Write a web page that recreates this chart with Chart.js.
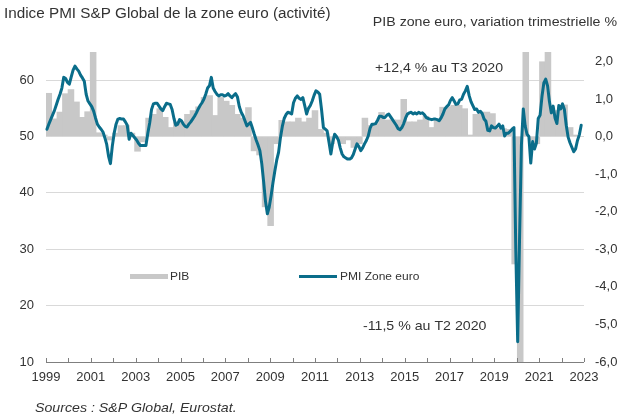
<!DOCTYPE html>
<html><head><meta charset="utf-8">
<script src="https://cdn.jsdelivr.net/npm/chart.js@4.4.1/dist/chart.umd.min.js"></script>
<style>html,body{margin:0;padding:0;background:#fff;}canvas{display:block;}</style>
</head><body>
<canvas id="c" width="622" height="416"></canvas>
<script>
// ---- DATA ----
// PMI composite (monthly), first value = April 1999, last = February 2023
const pmiStartYear = 1999, pmiStartMonth = 4;
const pmi = [
  51.3, 52.2, 53.0, 53.8, 54.6, 55.6, 56.6, 57.5, 58.6,
  60.5, 60.3, 59.6, 59.3, 60.6, 61.8, 62.5, 62.0, 61.6, 60.9, 60.4, 59.8,
  57.5, 56.3, 55.8, 55.3, 54.5, 53.3, 52.2, 51.7, 51.3, 50.8, 49.8, 48.6,
  46.5, 45.2, 48.3, 50.6, 52.2, 53.1, 53.2, 53.1, 53.1, 52.6, 52.0, 49.5,
  50.6, 50.2, 49.8, 49.4, 48.8, 48.4, 48.4, 48.4, 48.4, 50.6, 52.4, 54.8,
  55.8, 55.9, 55.9, 55.4, 54.9, 54.6, 55.3, 55.9, 55.8, 55.7, 54.8, 53.2,
  52.0, 52.2, 53.0, 52.8, 52.2, 51.8, 51.7, 52.2, 52.6, 53.1, 53.6, 54.2,
  54.9, 55.5, 56.0, 56.6, 57.5, 58.6, 59.0, 60.5, 58.6, 58.0, 57.5, 57.2,
  57.4, 57.4, 57.2, 57.3, 57.6, 57.2, 56.9, 57.3, 57.6, 57.0, 55.3, 54.3,
  53.7, 52.8, 51.9, 52.2, 52.5, 51.5, 50.4, 49.4, 48.5, 47.5, 45.2, 42.0,
  38.5, 36.3, 37.5, 39.5, 41.8, 43.9, 45.8, 47.2, 49.8, 51.8, 53.2, 53.9,
  54.3, 54.2, 54.0, 56.0, 56.8, 57.2, 56.8, 56.6, 56.9, 55.5, 54.0, 55.0,
  55.5, 56.3, 57.3, 58.1, 57.9, 57.5, 54.8, 51.6, 51.3, 51.0, 49.0, 46.9,
  49.0, 50.4, 50.0, 49.4, 48.0, 46.9, 46.4, 46.2, 46.0, 46.0, 46.2, 46.8,
  47.8, 48.7, 48.2, 47.5, 48.0, 48.7, 49.3, 50.1, 51.5, 52.2, 52.2, 52.3,
  52.9, 53.6, 53.6, 53.4, 53.4, 53.8, 54.0, 53.5, 53.0, 52.5, 52.0, 51.4,
  51.2, 51.6, 52.3, 53.3, 54.0, 54.2, 54.3, 54.0, 54.2, 54.0, 54.3, 54.1,
  54.2, 53.9, 53.4, 53.2, 53.1, 53.0, 53.1, 53.1, 53.0, 52.8, 53.3, 54.0,
  54.9, 55.3, 55.6, 56.4, 56.9, 56.3, 55.7, 55.8, 56.5, 56.6, 57.5, 58.1,
  58.9, 57.3, 56.2, 55.5, 54.8, 54.9, 54.3, 54.5, 54.1, 53.1, 52.7, 51.1,
  51.0, 51.9, 51.6, 51.5, 51.8, 52.2, 51.5, 51.9, 50.1, 50.6, 50.6, 50.9,
  51.3, 51.6, 29.7, 13.6, 31.9, 48.5, 54.9, 51.9, 50.4, 50.0, 45.3, 49.1,
  47.8, 48.8, 53.2, 53.8, 57.1, 59.5, 60.2, 59.0, 56.2, 54.2, 55.4, 53.3,
  52.3, 55.5, 54.9, 55.8, 54.8, 52.0, 49.9, 48.9, 48.1, 47.3, 47.8, 49.3,
  50.3, 52.0
];
const pmiMonthSlots = 288; // months on the axis (Apr 1999 .. Mar 2023)

// PIB zone euro, variation trimestrielle (%), T1 1999 .. T1 2023 (last not published)
const pibStartYear = 1999;
const pib = [
  1.16, 0.48, 0.66, 1.15, 1.26, 0.93, 0.52, 0.67,
  2.4, 0.11, 0.05, -0.1, 0.1, 0.3, 0.3, 0.1,
  -0.4, -0.15, 0.5, 0.6, 0.75, 0.52, 0.25, 0.4,
  0.4, 0.6, 0.7, 0.8, 1.05, 1.1, 0.57, 1.05,
  0.95, 0.84, 0.6, 0.5, 0.78, -0.39, -0.5, -1.88,
  -2.38, -0.2, 0.44, 0.4, 0.4, 0.5, 0.4, 0.5,
  0.7, 0.2, 0.1, -0.2, -0.05, -0.2, -0.1, -0.3,
  -0.2, 0.5, 0.3, 0.35, 0.65, 0.45, 0.45, 0.45,
  1.0, 0.4, 0.4, 0.45, 0.55, 0.25, 0.45, 0.79,
  0.8, 0.84, 0.84, 0.75, 0.05, 0.6, 0.66, 0.66,
  0.62, 0.22, 0.22, 0.2, -3.4, -11.5, 12.4, -0.1,
  -0.2, 2.0, 2.3, 0.7, 0.7, 0.85, 0.25, 0.05,
  null
];

const yearTickLabels = ['1999','2001','2003','2005','2007','2009','2011','2013','2015','2017','2019','2021','2023'];
const leftTicks = [10, 20, 30, 40, 50, 60];
const rightTicks = [-6, -5, -4, -3, -2, -1, 0, 1, 2];

const seriesNames = ['PIB', 'PMI Zone euro'];
const texts = {
  titleLeft: 'Indice PMI S&P Global de la zone euro (activité)',
  titleRight: 'PIB zone euro, variation trimestrielle %',
  noteUp: '+12,4 % au T3 2020',
  noteDown: '-11,5 % au T2 2020',
  source: 'Sources : S&P Global, Eurostat.'
};

// ---- categories built from the data arrays ----
const monthLabels = [];
for (let i = 0; i < pmiMonthSlots; i++) {
  const m = pmiStartMonth - 1 + i;
  monthLabels.push((pmiStartYear + Math.floor(m / 12)) + '-' + String(m % 12 + 1).padStart(2, '0'));
}
const quarterLabels = pib.map((_, i) => 'T' + (i % 4 + 1) + ' ' + (pibStartYear + Math.floor(i / 4)));

const GREY = '#c8c8c8', TEAL = '#0a6d8a', TXT = '#333333', FONT = "'Liberation Sans', Arial, sans-serif";
const PLOT_WIDTH = 538; // chart-area width in px (622 - 46 - 38)

function sText(ctx, str, x, y, align, font, sx) {
  ctx.save();
  ctx.font = font; ctx.fillStyle = TXT; ctx.textBaseline = 'middle'; ctx.textAlign = align;
  ctx.translate(x, y); ctx.scale(sx, 1); ctx.fillText(str, 0, 0);
  ctx.restore();
}

const decor = {
  id: 'decor',
  afterDatasetsDraw(chart) {
    const { ctx, chartArea: a, scales } = chart;
    const xs = scales.x;
    ctx.save();
    ctx.strokeStyle = '#7f7f7f'; ctx.lineWidth = 1;
    ctx.beginPath();
    xs.ticks.forEach(t => {
      const px = Math.round(xs.getPixelForValue(t.value)) + 0.5;
      ctx.moveTo(px, a.bottom); ctx.lineTo(px, a.bottom - 4);
    });
    ctx.moveTo(a.left, Math.round(a.bottom) + 0.5); ctx.lineTo(a.right, Math.round(a.bottom) + 0.5);
    ctx.stroke();
    ctx.restore();
  },
  afterDraw(chart) {
    const ctx = chart.ctx;
    const sx = 1.09;
    sText(ctx, texts.titleLeft, 4, 14, 'left', '14px ' + FONT, sx);
    sText(ctx, texts.titleRight, 617, 22, 'right', '13px ' + FONT, sx);
    sText(ctx, texts.noteUp, 375, 68, 'left', '13px ' + FONT, sx);
    sText(ctx, texts.noteDown, 363, 326, 'left', '13px ' + FONT, sx);
    sText(ctx, texts.source, 35, 408, 'left', 'italic 13px ' + FONT, sx);
    // legend
    ctx.save();
    ctx.fillStyle = GREY; ctx.fillRect(130, 274, 38, 5);
    ctx.strokeStyle = TEAL; ctx.lineWidth = 3;
    ctx.beginPath(); ctx.moveTo(299, 276.5); ctx.lineTo(337, 276.5); ctx.stroke();
    ctx.restore();
    sText(ctx, seriesNames[0], 170, 277, 'left', '11px ' + FONT, sx);
    sText(ctx, seriesNames[1], 340, 277, 'left', '11px ' + FONT, sx);
  }
};

new Chart(document.getElementById('c'), {
  type: 'bar',
  data: {
    datasets: [
      { type: 'line', label: seriesNames[1], data: pmi, xAxisID: 'xm', yAxisID: 'y',
        borderColor: TEAL, borderWidth: 3, pointRadius: 0, tension: 0, order: 0,
        borderJoinStyle: 'round', borderCapStyle: 'round' },
      { type: 'bar', label: seriesNames[0], data: pib, xAxisID: 'xq', yAxisID: 'y1',
        backgroundColor: GREY, borderWidth: 0, grouped: false,
        barThickness: PLOT_WIDTH / quarterLabels.length + 1,
        barPercentage: 1, categoryPercentage: 1, inflateAmount: 0, order: 1 }
    ]
  },
  options: {
    responsive: false, animation: false,
    layout: { padding: { top: 52, left: 0, right: 0, bottom: 0 } },
    plugins: { legend: { display: false }, tooltip: { enabled: false }, title: { display: false } },
    scales: {
      xm: { type: 'category', labels: monthLabels, offset: true, display: false },
      xq: { type: 'category', labels: quarterLabels, offset: true, display: false },
      x: {
        type: 'linear', position: 'bottom', min: 0, max: pmiMonthSlots, offset: false,
        afterFit: s => { s.height = 54; },
        grid: { drawOnChartArea: false, drawTicks: false, offset: false },
        border: { display: false },
        ticks: {
          stepSize: 12, autoSkip: false, maxRotation: 0, padding: 8,
          color: TXT, font: { family: FONT, size: 13 },
          callback: v => (v % 24 === 0 ? yearTickLabels[v / 24] : '')
        }
      },
      y: {
        position: 'left', min: 10, max: 65,
        afterFit: s => { s.width = 46; },
        afterBuildTicks: s => { s.ticks = leftTicks.map(v => ({ value: v })); },
        grid: { color: '#d9d9d9', lineWidth: 1, drawTicks: false },
        border: { display: false },
        ticks: { padding: 12, color: TXT, font: { family: FONT, size: 13 }, callback: v => String(v) }
      },
      y1: {
        position: 'right', min: -6, max: 2.25,
        afterFit: s => { s.width = 38; },
        afterBuildTicks: s => { s.ticks = rightTicks.map(v => ({ value: v })); },
        grid: { drawOnChartArea: false, drawTicks: false },
        border: { display: false },
        ticks: { padding: 11, color: TXT, font: { family: FONT, size: 13 },
          callback: v => v.toFixed(1).replace('.', ',') }
      }
    }
  },
  plugins: [decor]
});
</script>
</body></html>
